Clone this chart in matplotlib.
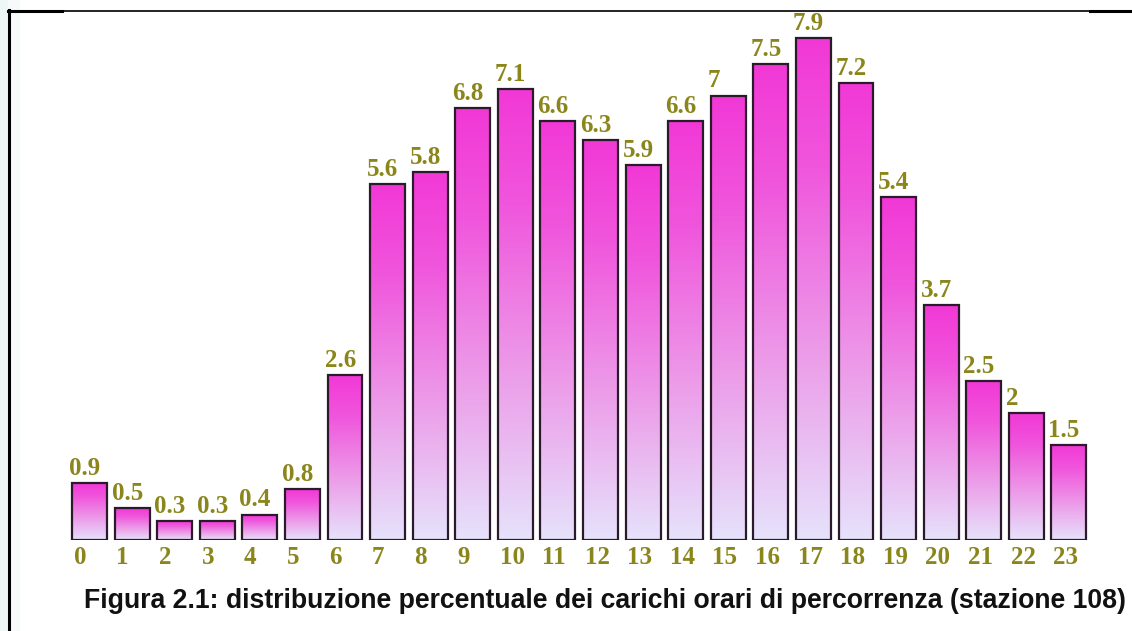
import numpy as np
import matplotlib.pyplot as plt
from matplotlib.colors import LinearSegmentedColormap
from matplotlib.lines import Line2D
from matplotlib.patches import Rectangle

# hourly share of traffic (station 108)
hours = list(range(24))
values = [0.9, 0.5, 0.3, 0.3, 0.4, 0.8, 2.6, 5.6, 5.8, 6.8, 7.1, 6.6,
          6.3, 5.9, 6.6, 7.0, 7.5, 7.9, 7.2, 5.4, 3.7, 2.5, 2.0, 1.5]
value_labels = ['0.9', '0.5', '0.3', '0.3', '0.4', '0.8', '2.6', '5.6', '5.8', '6.8',
                '7.1', '6.6', '6.3', '5.9', '6.6', '7', '7.5', '7.9', '7.2', '5.4',
                '3.7', '2.5', '2', '1.5']
caption = 'Figura 2.1: distribuzione percentuale dei carichi orari di percorrenza (stazione 108)'

W, H = 1132, 631
fig = plt.figure(figsize=(W / 100, H / 100), dpi=100)
fig.patch.set_facecolor('white')

# faint strip on the left edge
fig.patches.append(Rectangle((0, 0), 8 / W, 1, transform=fig.transFigure,
                             facecolor='#eef6f6', edgecolor='none', zorder=0))
fig.patches.append(Rectangle((8 / W, 0), 12 / W, 1, transform=fig.transFigure,
                             facecolor='#f6fafa', edgecolor='none', zorder=0))

ax = fig.add_axes([68.2 / W, 1 - 540 / H, 1022 / W, 533.4 / H])
ax.set_xlim(-0.5, 23.5)
ax.set_ylim(0, 8.4)
ax.axis('off')

grad = LinearSegmentedColormap.from_list('g', [(0, '#e6e2fb'), (0.35, '#eca0ea'),
                                               (0.75, '#f055dc'), (1, '#f238d6')])
g = np.linspace(0, 1, 256).reshape(-1, 1)
bw = 0.82
olive = '#8a861c'

for h, v, lab in zip(hours, values, value_labels):
    ax.imshow(g, cmap=grad, aspect='auto', origin='lower',
              extent=(h - bw / 2, h + bw / 2, 0, v), zorder=1)
    ax.text(h - bw / 2 - 0.07, v + 0.05, lab, ha='left', va='bottom',
            fontsize=18, fontweight='bold', family='Liberation Serif',
            color=olive)
    ax.text(h - bw / 2 + 0.04, -0.1, str(h), ha='left', va='top',
            fontsize=18, fontweight='bold', family='Liberation Serif',
            color=olive, clip_on=False)

ax.bar(hours, values, width=bw, facecolor='none', edgecolor='#2a1a2a',
       linewidth=1.6, zorder=2)
ax.set_xlim(-0.5, 23.5)
ax.set_ylim(0, 8.4)

# frame lines
fig.add_artist(Line2D([8.5 / W, 8.5 / W], [0, 1 - 10 / H], color='black', lw=2.2))
fig.add_artist(Line2D([8 / W, 1], [1 - 10.5 / H, 1 - 10.5 / H], color='black', lw=1.2))
fig.add_artist(Line2D([8 / W, 62 / W], [1 - 11 / H, 1 - 11 / H], color='black', lw=2.2))
fig.add_artist(Line2D([1090 / W, 1], [1 - 11 / H, 1 - 11 / H], color='black', lw=2.2))

fig.text(605 / W, 1 - 601 / H, caption, ha='center', va='center',
         fontsize=19.2, fontweight='bold', family='Liberation Sans', color='#111111')

fig.savefig('out.png', dpi=100)
